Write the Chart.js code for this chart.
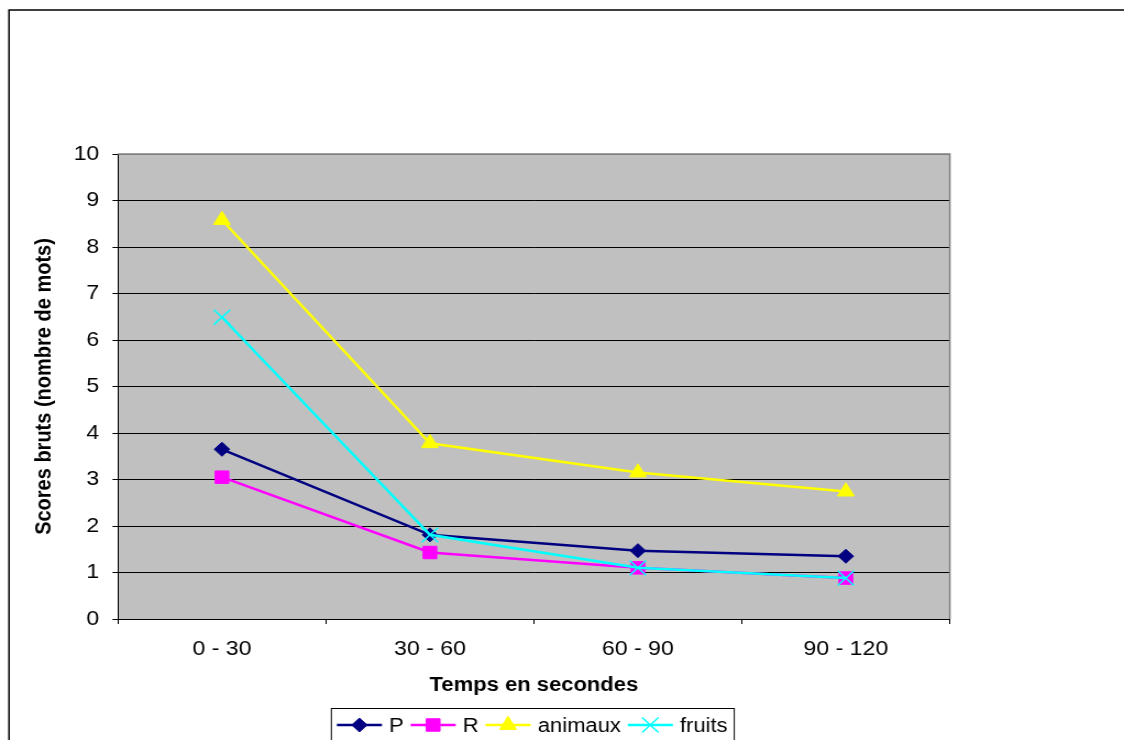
<!DOCTYPE html>
<html lang="fr">
<head>
  <meta charset="UTF-8" />
  <title>Scores bruts par tranche de temps</title>
  <script src="https://cdn.jsdelivr.net/npm/chart.js"></script>
  <style>
    html, body { margin: 0; padding: 0; background: #fff; overflow: hidden; }
    /* the original picture is a bit wider than tall, so the canvas is stretched 1.1x */
    #chart { display: block; width: 1124px; height: 740px; }
  </style>
</head>
<body>
  <canvas id="chart" width="1022" height="740" style="width:1124px;height:740px"></canvas>

  <script>
    // data
    const categories = ["0 - 30", "30 - 60", "60 - 90", "90 - 120"];
    const valuesP = [3.65, 1.81, 1.47, 1.35];
    const valuesR = [3.05, 1.43, 1.10, 0.88];
    const valuesAnimaux = [8.58, 3.78, 3.15, 2.74];
    const valuesFruits = [6.49, 1.81, 1.10, 0.88];
    const yTicks = [0, 1, 2, 3, 4, 5, 6, 7, 8, 9, 10];

    const FONT = '"Liberation Sans", Arial, sans-serif';
    Chart.defaults.font.family = FONT;
    Chart.defaults.color = "#000";

    // series style (order: lower = drawn on top)
    function series(label, data, color, style, radius, order, bw) {
      return {
        label: label,
        data: data,
        borderColor: color,
        backgroundColor: color,
        borderWidth: 2.5,
        pointStyle: style,
        pointRadius: radius,
        pointHoverRadius: radius,
        pointBackgroundColor: color,
        pointBorderColor: color,
        pointBorderWidth: bw,
        tension: 0,
        order: order
      };
    }

    const frame = {
      id: "frame",
      beforeDraw(chart) {
        const { ctx, chartArea: a } = chart;
        ctx.save();
        ctx.fillStyle = "#C0C0C0";
        ctx.fillRect(a.left, a.top, a.right - a.left, a.bottom - a.top);
        // outer frame (only top and left are in view)
        ctx.strokeStyle = "#000";
        ctx.lineWidth = 1.5;
        ctx.beginPath();
        ctx.moveTo(8.2, 760);
        ctx.lineTo(8.2, 10);
        ctx.lineTo(chart.width + 5, 10);
        ctx.stroke();
        ctx.restore();
      },
      beforeDatasetsDraw(chart) {
        const { ctx, chartArea: a } = chart;
        ctx.save();
        ctx.strokeStyle = "#808080";
        ctx.lineWidth = 1.5;
        ctx.beginPath();
        ctx.moveTo(a.right, a.bottom);
        ctx.lineTo(a.right, a.top);
        ctx.lineTo(a.left, a.top);
        ctx.stroke();
        ctx.restore();
      },
      afterDraw(chart) {
        // legend in a box, line + marker like the original
        const { ctx, chartArea: a } = chart;
        const sets = chart.data.datasets;
        const LINE = 41, GAP1 = 6.5, GAP2 = 6.2, PADL = 5, PADR = 6;
        const lineY = 725, textY = 732, boxTop = 708.5;
        ctx.save();
        ctx.font = "20px " + FONT;
        const widths = sets.map(d => ctx.measureText(d.label).width);
        let total = PADL + PADR + GAP2 * (sets.length - 1);
        widths.forEach(w => { total += LINE + GAP1 + w; });
        const left = (a.left + a.right) / 2 - total / 2 - 1;

        ctx.strokeStyle = "#000";
        ctx.lineWidth = 1;
        ctx.strokeRect(left, boxTop, total, 60);

        let x = left + PADL;
        sets.forEach((d, i) => {
          ctx.strokeStyle = d.borderColor;
          ctx.lineWidth = d.borderWidth;
          ctx.beginPath();
          ctx.moveTo(x, lineY);
          ctx.lineTo(x + LINE, lineY);
          ctx.stroke();

          ctx.fillStyle = d.pointBackgroundColor;
          ctx.strokeStyle = d.pointBorderColor;
          ctx.lineWidth = d.pointBorderWidth;
          Chart.helpers.drawPoint(ctx, {
            pointStyle: d.pointStyle,
            radius: d.pointRadius,
            rotation: 0,
            borderWidth: d.pointBorderWidth
          }, x + LINE / 2, lineY);

          ctx.fillStyle = "#000";
          ctx.textAlign = "left";
          ctx.textBaseline = "alphabetic";
          ctx.fillText(d.label, x + LINE + GAP1, textY);
          x += LINE + GAP1 + widths[i] + GAP2;
        });
        ctx.restore();
      }
    };

    const ctx = document.getElementById("chart").getContext("2d");
    const chart = new Chart(ctx, {
      type: "line",
      data: {
        labels: categories,
        datasets: [
          series("P", valuesP, "#000080", "rectRot", 7, 4, 1),
          series("R", valuesR, "#FF00FF", "rect", 8.8, 3, 1),
          series("animaux", valuesAnimaux, "#FFFF00", "triangle", 8.8, 2, 1),
          series("fruits", valuesFruits, "#00FFFF", "crossRot", 10.5, 1, 1.5)
        ]
      },
      options: {
        responsive: false,
        animation: false,
        devicePixelRatio: 1,
        layout: { padding: { left: 28, right: 158.4, top: 154, bottom: 0 } },
        plugins: {
          legend: { display: false },
          tooltip: { enabled: false }
        },
        events: [],
        scales: {
          x: {
            type: "category",
            offset: true,
            grid: {
              display: true,
              drawOnChartArea: false,
              drawTicks: true,
              tickLength: 5,
              offset: true,
              color: "#000",
              lineWidth: 1
            },
            border: { display: true, color: "#000", width: 1 },
            ticks: {
              color: "#000",
              font: { size: 21 },
              padding: 13,
              maxRotation: 0,
              autoSkip: false
            },
            title: {
              display: true,
              text: "Temps en secondes",
              color: "#000",
              font: { size: 20, weight: "bold" },
              padding: { top: 0, bottom: 43 }
            },
            afterFit: s => { s.height = 121; }
          },
          y: {
            min: yTicks[0],
            max: yTicks[yTicks.length - 1],
            afterBuildTicks: s => { s.ticks = yTicks.map(v => ({ value: v })); },
            grid: {
              color: c => (c.tick && c.tick.value === 10 ? "#808080" : "#000"),
              tickColor: "#000",
              tickLength: 5,
              lineWidth: 1
            },
            border: { display: true, color: "#000", width: 1 },
            ticks: {
              color: "#000",
              font: { size: 21 },
              padding: 12
            },
            title: {
              display: true,
              text: "Scores bruts (nombre de mots)",
              color: "#000",
              font: { size: 20, weight: "bold" },
              padding: { top: 0, bottom: 0 }
            },
            afterFit: s => { s.width = 107.3 - 28; }
          }
        }
      },
      plugins: [frame]
    });
  </script>
</body>
</html>
